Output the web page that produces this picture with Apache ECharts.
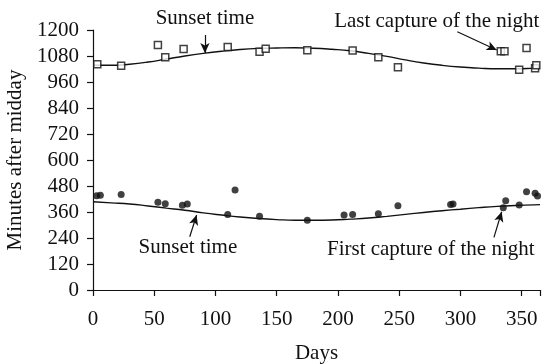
<!DOCTYPE html>
<html>
<head>
<meta charset="utf-8">
<script src="https://cdn.jsdelivr.net/npm/echarts@6/dist/echarts.min.js"></script>
<style>
  html, body { margin: 0; padding: 0; background: #fff; }
  #chart { width: 544px; height: 364px; }
</style>
</head>
<body>
<div id="chart"></div>
<script>
// last capture of the night (open squares): [day, minutes after midday]
const lastCapture = [
  [3.5, 1042], [23, 1035], [53, 1131], [59, 1074], [74, 1112],
  [110, 1122], [136, 1100], [141, 1114], [175, 1106], [212, 1105],
  [233, 1074], [249, 1028], [333, 1102], [336, 1102], [348, 1017],
  [354, 1117], [361, 1023], [362, 1037]
];

// first capture of the night (filled dots)
const firstCapture = [
  [3, 435], [6, 437], [23, 441], [53, 405], [59, 398], [73, 391],
  [77, 397], [110, 349], [116, 461], [136, 340], [175, 322], [205, 346],
  [212, 348], [233, 352], [249, 389], [292, 395], [294, 397], [335, 380],
  [337, 412], [348, 392], [354, 454], [361, 446], [363, 434]
];

// sunset time curves
const curveDays = [0, 15, 30, 45, 60, 75, 90, 105, 120, 135, 150, 165, 180,
  195, 210, 225, 240, 255, 270, 285, 300, 315, 330, 345, 360, 365];
const sunsetUpper = [1038, 1037, 1042, 1052, 1066, 1080, 1092, 1102, 1110, 1115,
  1117, 1118, 1116, 1111, 1104, 1092, 1078, 1062, 1048, 1037, 1029, 1024, 1021,
  1021, 1024, 1026];
const sunsetLower = [407, 402, 397, 388, 378, 368, 356, 346, 337, 330, 325, 322,
  322, 323, 327, 332, 340, 349, 358, 366, 373, 380, 386, 390, 393, 394];

// annotation texts and arrows, in data coordinates
const noteTexts = ['Sunset time', 'Last capture of the night', 'Sunset time', 'First capture of the night'];
const noteAt = [[91.4, 1251], [280.7, 1241], [77.5, 194], [275.8, 189]];
const arrows = [
  [[91.4, 1177], [91.4, 1094]],
  [[297.5, 1192], [329.6, 1108]],
  [[79, 246], [84.6, 346]],
  [[327.4, 243], [333.7, 361]]
];

const font = 'Liberation Serif, Times New Roman, serif';
const ink = '#111';
const fs = 21;

const chart = echarts.init(document.getElementById('chart'));

const zip = (xs, ys) => xs.map((x, i) => [x, ys[i]]);

chart.setOption({
  animation: false,
  grid: { left: 93, right: 4, top: 30, bottom: 74, outerBoundsMode: 'none', containLabel: false },
  xAxis: {
    type: 'value',
    min: 0,
    max: 365,
    interval: 50,
    name: 'Days',
    nameLocation: 'middle',
    nameGap: 53,
    nameTextStyle: { fontFamily: font, fontSize: fs, color: ink },
    axisLine: { onZero: false, lineStyle: { color: ink, width: 1.2 } },
    axisTick: { length: 6, lineStyle: { color: ink, width: 1.2 } },
    axisLabel: { margin: 19, fontFamily: font, fontSize: fs, color: ink,
      formatter: v => (v > 360 ? '' : String(v)) },
    splitLine: { show: false }
  },
  yAxis: {
    type: 'value',
    min: 0,
    max: 1200,
    interval: 120,
    name: 'Minutes after midday',
    nameLocation: 'middle',
    nameGap: 65,
    nameRotate: 90,
    nameTextStyle: { fontFamily: font, fontSize: fs, color: ink },
    axisLine: { show: true, lineStyle: { color: ink, width: 1.2 } },
    axisTick: { show: true, length: 6, lineStyle: { color: ink, width: 1.2 } },
    axisLabel: { margin: 14, fontFamily: font, fontSize: fs, color: ink,
      formatter: v => String(v) },
    splitLine: { show: false }
  },
  series: [
    {
      type: 'line',
      data: zip(curveDays, sunsetUpper),
      smooth: true,
      showSymbol: false,
      lineStyle: { color: ink, width: 1.4 },
      z: 2
    },
    {
      type: 'line',
      data: zip(curveDays, sunsetLower),
      smooth: true,
      showSymbol: false,
      lineStyle: { color: ink, width: 1.4 },
      z: 2
    },
    {
      type: 'scatter',
      data: lastCapture,
      symbol: 'rect',
      symbolSize: 7,
      itemStyle: { color: '#fff', borderColor: ink, borderWidth: 1.5 },
      z: 3
    },
    {
      type: 'scatter',
      data: firstCapture,
      symbol: 'circle',
      symbolSize: 7,
      itemStyle: { color: ink },
      z: 3,
      markLine: {
        silent: true,
        symbol: ['none', 'arrow'],
        symbolSize: [7, 10],
        label: { show: false },
        lineStyle: { color: ink, width: 1.2, type: 'solid' },
        data: arrows.map(a => [{ coord: a[0] }, { coord: a[1] }])
      }
    }
  ]
});

// place annotation texts at their data positions
chart.setOption({
  graphic: noteTexts.map((t, i) => {
    const p = chart.convertToPixel({ gridIndex: 0 }, noteAt[i]);
    return {
      type: 'text',
      x: p[0],
      y: p[1],
      style: {
        text: t,
        fontFamily: font,
        fontSize: fs,
        fill: ink,
        align: 'center',
        verticalAlign: 'middle'
      }
    };
  })
});
</script>
</body>
</html>
